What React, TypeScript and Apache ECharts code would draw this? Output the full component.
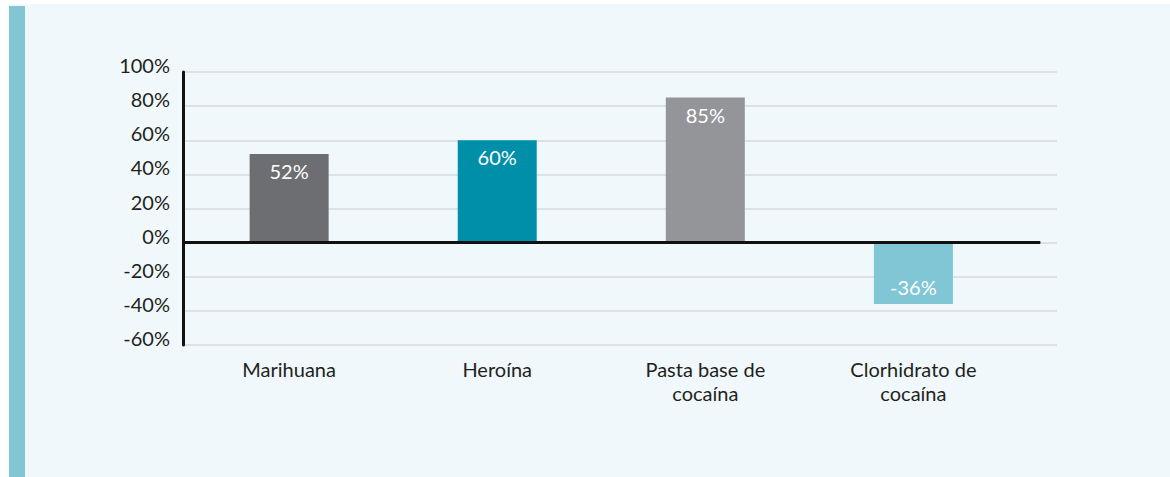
import React, { useEffect, useRef } from "react";
import * as echarts from "echarts";

const categories: string[] = ["Marihuana", "Heroína", "Pasta base de\ncocaína", "Clorhidrato de\ncocaína"];
const values: number[] = [52, 60, 85, -36];
const barColors: string[] = ["#6d6e71", "#008fa8", "#939598", "#80c6d4"];
const yTicks: number[] = [-60, -40, -20, 0, 20, 40, 60, 80, 100];

const FONT = "Lato, 'Open Sans', sans-serif";

export default function App() {
  const ref = useRef<HTMLDivElement>(null);
  useEffect(() => {
    if (!ref.current) return;
    const chart = echarts.init(ref.current, undefined, { renderer: "svg" });
    const data = values.map((v, i) => ({
      value: [i, v],
      itemStyle: { color: barColors[i] },
      label: { position: v >= 0 ? "insideTop" : "insideBottom" },
    }));
    chart.setOption({
      animation: false,
      backgroundColor: "transparent",
      grid: { left: 183, right: 113, top: 72, bottom: 132, containLabel: false },
      xAxis: {
        type: "value",
        min: -0.51,
        max: 3.69,
        axisLine: { show: false },
        axisTick: { show: false },
        splitLine: { show: false },
        axisLabel: {
          customValues: categories.map((_, i) => i),
          formatter: (v: number) => categories[Math.round(v)] ?? "",
          fontFamily: FONT,
          fontSize: 20,
          color: "#231f20",
          lineHeight: 24,
          margin: 12,
        },
      },
      yAxis: {
        type: "value",
        min: yTicks[0],
        max: yTicks[yTicks.length - 1],
        interval: 20,
        axisLine: { show: true, onZero: false, lineStyle: { color: "#111", width: 3 } },
        axisTick: { show: false },
        splitLine: { show: true, lineStyle: { color: "#d5dadd", width: 1.5 } },
        axisLabel: {
          formatter: (v: number) => `${v}%`,
          fontFamily: FONT,
          fontSize: 20,
          color: "#231f20",
          margin: 13,
          verticalAlign: "bottom",
          lineHeight: 14,
        },
      },
      series: [
        {
          type: "bar",
          data,
          barWidth: 79,
          label: {
            show: true,
            formatter: (p: any) => `${p.value[1]}%`,
            color: "#ffffff",
            fontFamily: FONT,
            fontSize: 20,
            distance: 7,
          },
          markLine: {
            silent: true,
            symbol: "none",
            label: { show: false },
            lineStyle: { color: "#111", width: 3, type: "solid" },
            data: [[{ coord: [-0.51, 0] }, { coord: [3.61, 0] }]],
          },
        },
      ],
    });
    return () => chart.dispose();
  }, []);

  return (
    <div style={{ position: "fixed", left: 0, top: 0, width: 1170, height: 477, background: "#ffffff" }}>
      <div style={{ position: "absolute", left: 9, top: 4, right: 0, bottom: 0, background: "#f0f8fb" }} />
      <div style={{ position: "absolute", left: 9, top: 6, width: 16, bottom: 0, background: "#82c6d4" }} />
      <div ref={ref} style={{ position: "absolute", left: 0, top: 0, width: 1170, height: 477 }} />
    </div>
  );
}
